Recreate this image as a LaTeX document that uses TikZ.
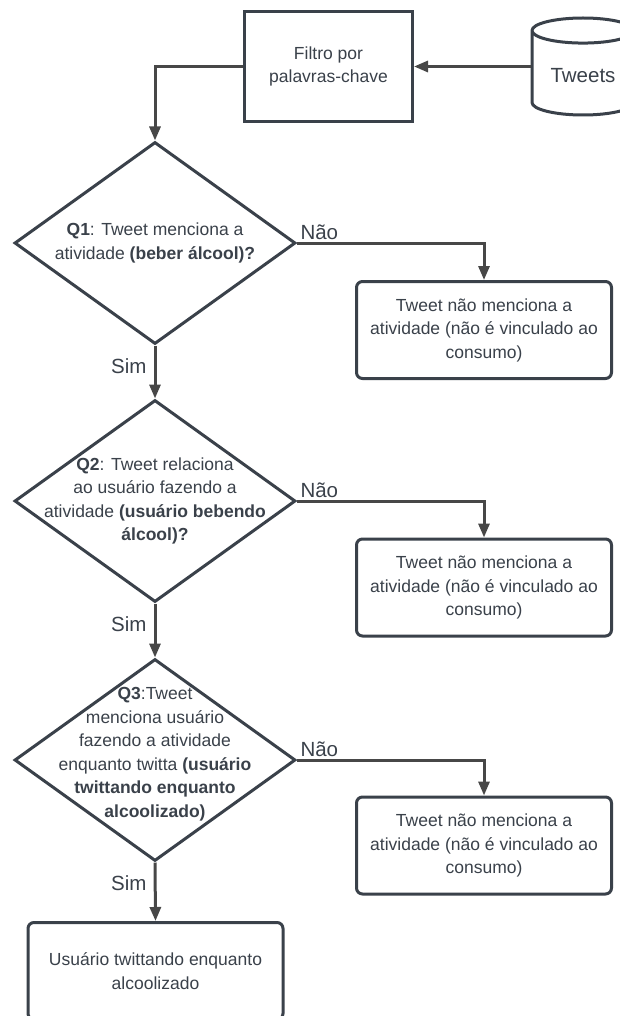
\documentclass[tikz,border=0pt]{standalone}
\usepackage{fontspec}
\setmainfont{Liberation Sans}
\usetikzlibrary{shapes.geometric,arrows.meta,positioning}
\definecolor{ink}{HTML}{3A414A}
\definecolor{wire}{HTML}{474747}

\begin{document}
\begin{tikzpicture}[x=1pt,y=-1pt,>={Triangle[length=14pt,width=11pt]},
  every node/.style={text=ink,font=\fontsize{17.5}{23.5}\selectfont}]

  \tikzstyle{block}=[rectangle,line width=3pt,draw=ink,fill=white,align=center,
                     minimum width=168pt,minimum height=110pt]
  \tikzstyle{outcome}=[block,rounded corners=6pt,minimum width=255pt,minimum height=97pt]
  \tikzstyle{question}=[diamond,line width=3pt,draw=ink,fill=white,inner sep=0pt,
                        minimum width=281pt,minimum height=202pt]
  \tikzstyle{qtext}=[align=center]
  \tikzstyle{store}=[cylinder,shape border rotate=90,aspect=0.35,line width=3pt,draw=ink,
                     fill=white,minimum width=102pt,minimum height=97pt,anchor=shape center,
                     font=\fontsize{20.5}{24}\selectfont]
  \tikzstyle{flow}=[->,line width=3pt,draw=wire]
  \tikzstyle{answer}=[font=\fontsize{20.5}{24}\selectfont,inner sep=2pt]

  \useasboundingbox (0,0) rectangle (620,1016);
  \clip (0,0) rectangle (620,1016);

  % source and filter
  \node [store] (tweets) at (583,66.5) {Tweets};
  \node [block] (filter) at (328.5,66.5) {Filtro por\\palavras-chave};

  % questions
  \node [question,label={[qtext]center:{\textbf{Q1}: Tweet menciona a\\atividade \textbf{(beber álcool)?}}}]
    (q1) at (155,243) {};
  \node [question,label={[qtext]center:{\textbf{Q2}: Tweet relaciona\\ao usuário fazendo a\\atividade \textbf{(usuário bebendo}\\\textbf{álcool)?}}}]
    (q2) at (155,501) {};
  \node [question,label={[qtext,yshift=6pt]center:{\textbf{Q3}:Tweet\\menciona usuário\\fazendo a atividade\\enquanto twitta \textbf{(usuário}\\\textbf{twittando enquanto}\\\textbf{alcoolizado)}}}]
    (q3) at (155,760) {};

  % outcomes
  \node [outcome] (no1) at (484,330) {Tweet não menciona a\\atividade (não é vinculado ao\\consumo)};
  \node [outcome] (no2) at (484,587.5) {Tweet não menciona a\\atividade (não é vinculado ao\\consumo)};
  \node [outcome] (no3) at (484,845.5) {Tweet não menciona a\\atividade (não é vinculado ao\\consumo)};
  \node [outcome] (yes) at (155.5,971) {Usuário twittando enquanto\\alcoolizado};

  \draw [flow] (tweets.west |- filter.east) -- (filter.east);
  \draw [flow] (filter.west) -| (q1.north);

  \draw [flow] (q1.east) -| node [answer,pos=0,anchor=south west] {Não} (no1.north);
  \draw [flow] (q2.east) -| node [answer,pos=0,anchor=south west] {Não} (no2.north);
  \draw [flow] (q3.east) -| node [answer,pos=0,anchor=south west] {Não} (no3.north);

  \draw [flow] (q1.south) -- node [answer,pos=0,anchor=north east,xshift=-5pt,yshift=-10pt] {Sim} (q2.north);
  \draw [flow] (q2.south) -- node [answer,pos=0,anchor=north east,xshift=-5pt,yshift=-10pt] {Sim} (q3.north);
  \draw [flow] (q3.south) -- node [answer,pos=0,anchor=north east,xshift=-5pt,yshift=-10pt] {Sim} (yes.north);
\end{tikzpicture}
\end{document}
